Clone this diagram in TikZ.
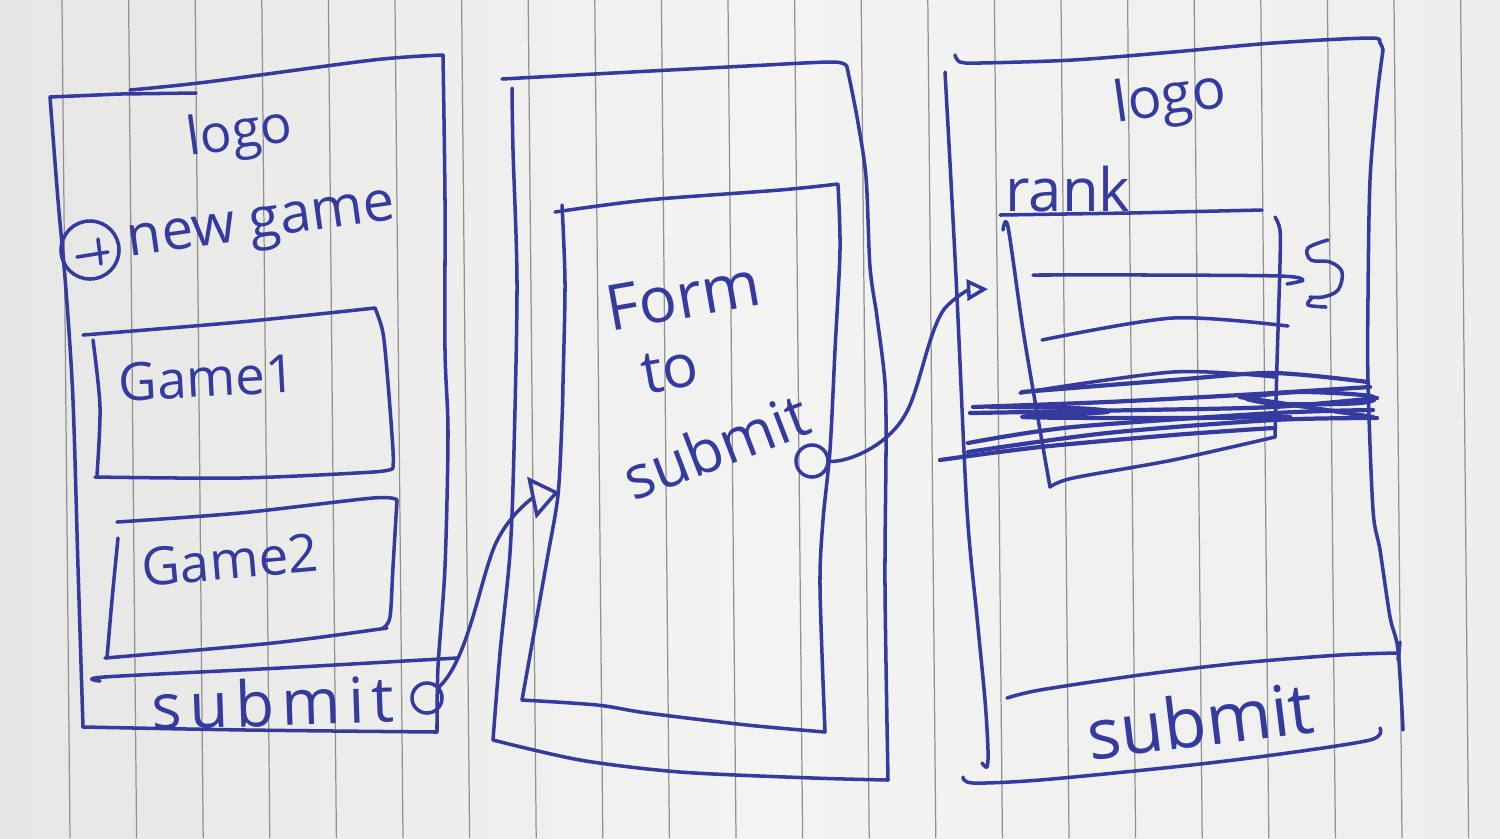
\documentclass[tikz,border=0pt]{standalone}
\usepackage{fontspec}
\newfontfamily\handfont{Open Sans}
\newfontfamily\handwide{Open Sans}[LetterSpace=12]
\usetikzlibrary{arrows.meta}
\definecolor{pen}{RGB}{52,58,158}
\definecolor{paperL}{RGB}{230,230,228}
\definecolor{paperM}{RGB}{243,243,241}
\definecolor{paperR}{RGB}{238,238,236}
\definecolor{rule}{RGB}{145,145,145}
\newcommand\handsize[1]{\handfont\fontsize{#1}{#1}\selectfont}
\newcommand\handwidesize[1]{\handwide\fontsize{#1}{#1}\selectfont}
\tikzset{
  stroke/.style={draw=pen, line width=1pt, line cap=round, line join=round},
  scrib/.style={draw=pen, line width=1.2pt, line cap=round, line join=round},
  hand/.style={text=pen, inner sep=0pt},
  dotnode/.style={circle, draw=pen, line width=1pt, minimum size=0.3cm, inner sep=0pt},
  ruleline/.style={draw=rule, line width=0.35pt},
  tipbig/.style={-{Triangle[open, length=8pt, width=12pt]}},
  tipsmall/.style={-{Triangle[open, length=6pt, width=6pt]}},
}
\begin{document}
\begin{tikzpicture}[x=0.01cm, y=-0.01cm]
\useasboundingbox (0,0) rectangle (1500,838);
% paper
\shade[left color=paperL, right color=paperR, middle color=paperM] (0,0) rectangle (1500,838);
\foreach \k in {0,...,21}{
  \draw[ruleline] ({62+66.6*\k},0) -- ({70+66.6*\k},838);
}

% ---------- screen 1: game list ----------
\draw[stroke] (50,97) -- (120,94) -- (196,93);
\draw[stroke] plot[smooth, tension=0.5] coordinates {(130,90) (207,82) (373,60) (443,55)};
\draw[stroke] plot[smooth, tension=0.5] coordinates {(443,55) (445,200) (445,350) (448,433) (445,567) (438,667) (437,732)};
\draw[stroke] plot[smooth, tension=0.5] coordinates {(437,732) (247,730) (83,727)};
\draw[stroke] plot[smooth, tension=0.5] coordinates {(50,97) (58,200) (66,290) (73,400) (78,567) (83,727)};

\node[hand, rotate=8, font=\handsize{15}] (logoA) at (240,135) {logo};
\node[dotnode, minimum size=0.58cm] (plus) at (90,250) {};
\draw[stroke] (77,257) -- (108,252);
\draw[stroke] (98,239) -- (101,264);
\node[hand, rotate=8, font=\handsize{16}] (newgame) at (262,229) {new game};

% game 1 card
\draw[stroke] plot[smooth, tension=0.5] coordinates {(83,335) (240,322) (375,308)};
\draw[stroke] plot[smooth, tension=0.5] coordinates {(375,308) (383,333) (388,383) (393,450) (393,467)};
\draw[stroke] plot[smooth, tension=0.5] coordinates {(393,468) (373,472) (240,478) (95,477)};
\draw[stroke] plot[smooth, tension=0.5] coordinates {(93,340) (100,407) (97,475)};
\node[hand, rotate=3, font=\handsize{15}] (game1) at (207,378) {Game1};

% game 2 card
\draw[stroke] plot[smooth, tension=0.5] coordinates {(117,522) (240,513) (373,498) (397,500)};
\draw[stroke] plot[smooth, tension=0.5] coordinates {(397,500) (393,567) (390,617) (383,628)};
\draw[stroke] plot[smooth, tension=0.5] coordinates {(387,628) (273,643) (105,658)};
\draw[stroke] plot[smooth, tension=0.5] coordinates {(118,538) (112,600) (107,658)};
\node[hand, rotate=5, font=\handsize{15}] (game2) at (230,560) {Game2};

% submit bar
\draw[stroke] plot[smooth, tension=0.5] coordinates {(100,681) (104,677) (280,668) (457,658)};
\node[hand, rotate=2, font=\handwidesize{18}] (submitA) at (273,702) {submit};
\node[dotnode] (c1) at (427,698) {};

% ---------- screen 2: form ----------
\draw[stroke] plot[smooth, tension=0.5] coordinates {(502,79) (613,73) (747,66) (833,62) (847,67)};
\draw[stroke] plot[smooth, tension=0.5] coordinates {(847,67) (857,117) (866,177) (870,267) (877,317) (885,383) (886,450) (885,587) (888,780)};
\draw[stroke] plot[smooth, tension=0.5] coordinates {(888,780) (813,778) (680,772) (580,760) (493,740)};
\draw[stroke] plot[smooth, tension=0.5] coordinates {(493,740) (500,653) (510,553) (514,450) (517,283) (513,150) (512,88)};

% form panel
\draw[stroke] plot[smooth, tension=0.5] coordinates {(555,212) (647,200) (780,190) (838,184)};
\draw[stroke] plot[smooth, tension=0.5] coordinates {(838,185) (840,250) (835,350) (830,450) (823,520) (820,587) (825,732)};
\draw[stroke] plot[smooth, tension=0.5] coordinates {(825,732) (747,725) (647,713) (597,705) (522,700)};
\draw[stroke] plot[smooth, tension=0.5] coordinates {(522,700) (547,560) (558,495) (562,420) (563,383) (565,283) (562,205)};
\coordinate (tip1) at (559,492);

\node[hand, rotate=10, font=\handsize{18}] (form) at (683,296) {Form};
\node[hand, rotate=10, font=\handsize{17}] (to) at (670,370) {to};
\node[hand, rotate=21, font=\handsize{17}] (submitB) at (716,446) {submit};
\node[dotnode, minimum size=0.32cm] (c2) at (812,461) {};

% ---------- screen 3: ranking ----------
\draw[stroke] plot[smooth, tension=0.5] coordinates {(955,55) (960,62) (980,63) (1073,60) (1173,52) (1273,43) (1370,38) (1380,43) (1383,50)};
\draw[stroke] plot[smooth, tension=0.5] coordinates {(1383,50) (1377,97) (1370,180) (1368,297) (1368,383) (1373,510) (1380,550) (1390,617) (1398,650) (1403,730)};
\draw[stroke] plot[smooth, tension=0.5] coordinates {(945,72) (950,163) (957,297) (967,510) (977,617) (985,700) (988,750) (987,767) (982,763)};
\draw[stroke] plot[smooth, tension=0.5] coordinates {(963,777) (973,783) (1040,780) (1173,767) (1273,755) (1370,740) (1380,728)};

\node[hand, rotate=8, font=\handsize{16}] (logoC) at (1170,100) {logo};
\node[hand, font=\handsize{17}] (rank) at (1068,189) {rank};
\draw[stroke] (1000,215) -- (1130,213) -- (1262,210);

% ranking list
\draw[stroke] plot[smooth, tension=0.5] coordinates {(1003,230) (1008,227) (1023,330) (1040,430) (1050,487)};
\draw[stroke] plot[smooth, tension=0.5] coordinates {(1050,487) (1073,478) (1173,460) (1275,437)};
\draw[stroke] plot[smooth, tension=0.5] coordinates {(1275,437) (1277,363) (1280,263) (1280,230) (1275,217)};
\draw[stroke] plot[smooth, tension=0.5] coordinates {(1033,275) (1150,275) (1280,276) (1303,280) (1287,284)};
\draw[stroke] plot[smooth, tension=0.5] coordinates {(1042,340) (1173,318) (1288,326)};
\draw[stroke] plot[smooth, tension=0.5] coordinates {(1020,393) (1173,372) (1275,377)};

% refresh mark
\draw[stroke] plot[smooth, tension=0.6] coordinates {(1328,240) (1308,248) (1311,260) (1330,262) (1342,272) (1338,290) (1323,297) (1310,297)};
\draw[stroke] plot[smooth, tension=0.6] coordinates {(1312,298) (1308,305) (1326,307)};

% scribbled-out rows
\draw[scrib] plot[smooth, tension=0.5] coordinates {(1022,392) (1173,380) (1273,373) (1368,382)};
\draw[scrib] plot[smooth, tension=0.5] coordinates {(973,407) (1107,402) (1240,395) (1370,387)};
\draw[scrib] plot[smooth, tension=0.5] coordinates {(970,413) (1140,410) (1273,407) (1377,398)};
\draw[scrib] plot[smooth, tension=0.6] coordinates {(990,407) (1073,408) (1107,412) (1023,417) (1173,418) (1290,417)};
\draw[scrib] plot[smooth, tension=0.6] coordinates {(1250,397) (1300,392) (1370,396) (1360,403) (1280,404) (1247,399)};
\draw[scrib] plot[smooth, tension=0.5] coordinates {(968,443) (1073,427) (1275,413) (1373,410)};
\draw[scrib] plot[smooth, tension=0.5] coordinates {(968,452) (1107,433) (1273,420) (1377,418)};
\draw[scrib] plot[smooth, tension=0.5] coordinates {(940,460) (1040,447) (1173,435) (1273,428)};
\draw[scrib] (1240,397) -- (1373,417);
\coordinate (tip2) at (988,289);

% submit bar
\draw[stroke] plot[smooth, tension=0.5] coordinates {(1007,698) (1040,690) (1140,675) (1240,663) (1340,655) (1397,653)};
\draw[stroke] (1400,642) -- (1398,660);
\node[hand, rotate=7, font=\handsize{20}] (submitC) at (1200,720) {submit};

% ---------- flow connectors ----------
\draw[stroke, tipbig] (c1) .. controls (468,660) and (480,580) .. (495,545)
  .. controls (510,512) and (535,497) .. (tip1);
\draw[stroke, tipsmall] (c2) .. controls (850,462) and (888,445) .. (905,415)
  .. controls (920,390) and (928,330) .. (945,308)
  .. controls (955,297) and (968,290) .. (tip2);
\end{tikzpicture}
\end{document}
